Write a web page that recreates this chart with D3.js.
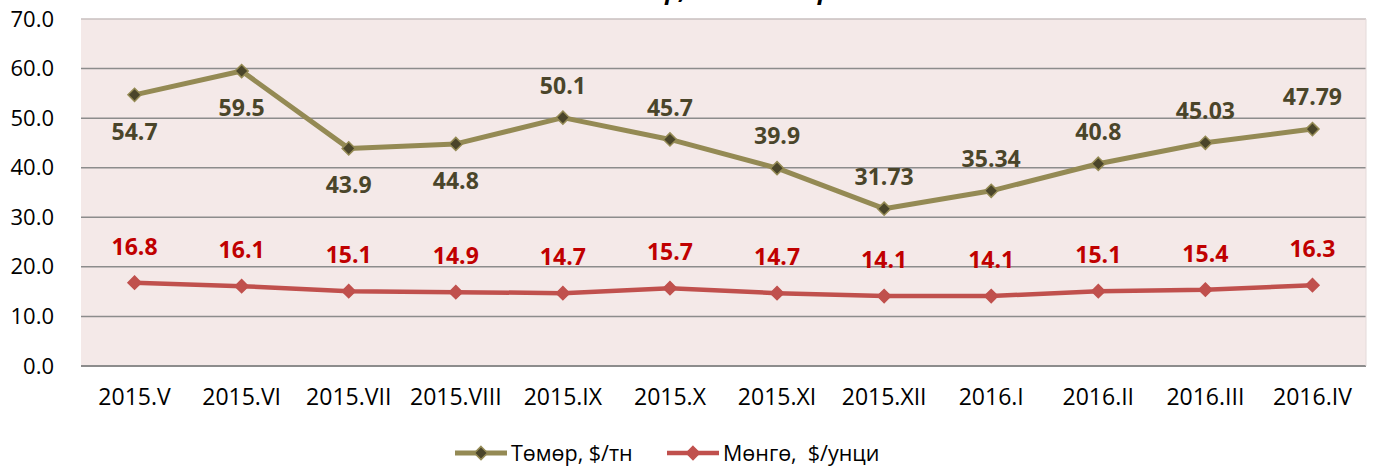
<!DOCTYPE html>
<html>
<head>
<meta charset="utf-8">
<script src="https://cdn.jsdelivr.net/npm/d3@7"></script>
<style>
  body { margin: 0; background: #fff; }
  svg { display: block; font-family: "Open Sans", "Noto Sans", sans-serif; }
</style>
</head>
<body>
<svg id="chart" width="1374" height="467"></svg>
<script>
// data
const months = ["2015.V", "2015.VI", "2015.VII", "2015.VIII", "2015.IX", "2015.X",
                "2015.XI", "2015.XII", "2016.I", "2016.II", "2016.III", "2016.IV"];
const ironPrice = [54.7, 59.5, 43.9, 44.8, 50.1, 45.7, 39.9, 31.73, 35.34, 40.8, 45.03, 47.79];
const ironLabelText = ["54.7", "59.5", "43.9", "44.8", "50.1", "45.7", "39.9", "31.73", "35.34", "40.8", "45.03", "47.79"];
const ironLabelSide = ["below", "below", "below", "below", "above", "above", "above", "above", "above", "above", "above", "above"];
const silverPrice = [16.8, 16.1, 15.1, 14.9, 14.7, 15.7, 14.7, 14.1, 14.1, 15.1, 15.4, 16.3];
const yTicks = [0, 10, 20, 30, 40, 50, 60, 70];
const seriesNames = ["Төмөр, $/тн", "Мөнгө,  $/унци"];

// layout
const plotLeft = 81, plotRight = 1366, plotTop = 19, plotBottom = 366;
const svg = d3.select("#chart");

const x = d3.scaleBand().domain(months).range([plotLeft, plotRight]);
const y = d3.scaleLinear().domain([0, 70]).range([plotBottom, plotTop]);
const cx = d => x(d) + x.bandwidth() / 2;

// title (cut off by the top edge in the original)
svg.append("text")
   .attr("x", 730).attr("y", -1)
   .attr("text-anchor", "middle")
   .attr("font-size", 24).attr("font-weight", "bold").attr("font-style", "italic")
   .attr("fill", "#000")
   .text("Төмөр, мөнгөний үнэ");

// plot background
svg.append("rect")
   .attr("x", plotLeft).attr("y", plotTop)
   .attr("width", plotRight - plotLeft).attr("height", plotBottom - plotTop)
   .attr("fill", "#f4e9e8");

// gridlines
svg.append("g").selectAll("line")
   .data(yTicks)
   .join("line")
   .attr("x1", plotLeft).attr("x2", plotRight)
   .attr("y1", d => y(d)).attr("y2", d => y(d))
   .attr("stroke", d => d === 70 ? "#c9bfbf" : "#8c8c8c")
   .attr("stroke-width", d => d === 0 ? 2 : 1.5);

// right edge of plot area
svg.append("line")
   .attr("x1", plotRight).attr("x2", plotRight).attr("y1", plotTop).attr("y2", plotBottom)
   .attr("stroke", "#e4dada").attr("stroke-width", 1);

// y axis
const yAxis = svg.append("g")
   .attr("transform", `translate(${plotLeft},0)`)
   .call(d3.axisLeft(y).tickValues(yTicks).tickFormat(d3.format(".1f")).tickSize(0).tickPadding(27));
yAxis.select(".domain").remove();
yAxis.selectAll("text").attr("font-size", 22).attr("fill", "#000")
     .attr("font-family", "'Open Sans', sans-serif");

// x axis
const xAxis = svg.append("g")
   .attr("transform", `translate(0,${plotBottom})`)
   .call(d3.axisBottom(x).tickSize(0).tickPadding(23));
xAxis.select(".domain").remove();
xAxis.selectAll("text").attr("font-size", 23).attr("fill", "#000")
     .attr("font-family", "'Open Sans', sans-serif");

const diamond = d3.symbol().type(d3.symbolDiamond2).size(110);

function drawSeries(values, lineColor, width, markerFill, markerStroke) {
    const line = d3.line().x((d, i) => cx(months[i])).y(d => y(d));
    svg.append("path")
       .datum(values)
       .attr("d", line)
       .attr("fill", "none")
       .attr("stroke", lineColor)
       .attr("stroke-width", width)
       .attr("stroke-linejoin", "round");
    svg.append("g").selectAll("path")
       .data(values)
       .join("path")
       .attr("d", diamond)
       .attr("transform", (d, i) => `translate(${cx(months[i])},${y(d)})`)
       .attr("fill", markerFill)
       .attr("stroke", markerStroke)
       .attr("stroke-width", 1.5);
}

drawSeries(ironPrice, "#948a54", 5, "#4a452a", "#948a54");
drawSeries(silverPrice, "#c0504d", 4.5, "#c0504d", "#c0504d");

// data labels
svg.append("g").selectAll("text")
   .data(ironPrice)
   .join("text")
   .attr("x", (d, i) => cx(months[i]))
   .attr("y", (d, i) => y(d) + (ironLabelSide[i] === "below" ? 37 : -32))
   .attr("dy", "0.35em")
   .attr("text-anchor", "middle")
   .attr("font-size", 23).attr("font-weight", "bold")
   .attr("fill", "#4a452a")
   .text((d, i) => ironLabelText[i]);

svg.append("g").selectAll("text")
   .data(silverPrice)
   .join("text")
   .attr("x", (d, i) => cx(months[i]))
   .attr("y", d => y(d) - 36)
   .attr("dy", "0.35em")
   .attr("text-anchor", "middle")
   .attr("font-size", 23).attr("font-weight", "bold")
   .attr("fill", "#c00000")
   .text(d => d.toFixed(1));

// legend
const legend = [
    { name: seriesNames[0], x: 455, color: "#948a54", fill: "#4a452a", w: 5 },
    { name: seriesNames[1], x: 667, color: "#c0504d", fill: "#c0504d", w: 4.5 }
];
const lg = svg.append("g").selectAll("g")
   .data(legend)
   .join("g")
   .attr("transform", d => `translate(${d.x},453)`);
lg.append("line")
  .attr("x1", 0).attr("x2", 52).attr("y1", 0).attr("y2", 0)
  .attr("stroke", d => d.color).attr("stroke-width", d => d.w);
lg.append("path")
  .attr("d", diamond)
  .attr("transform", "translate(26,0)")
  .attr("fill", d => d.fill).attr("stroke", d => d.color).attr("stroke-width", 1.5);
lg.append("text")
  .attr("x", 56).attr("dy", "0.35em")
  .attr("font-size", 21.5).attr("fill", "#000")
  .style("white-space", "pre")
  .text(d => d.name);
</script>
</body>
</html>
